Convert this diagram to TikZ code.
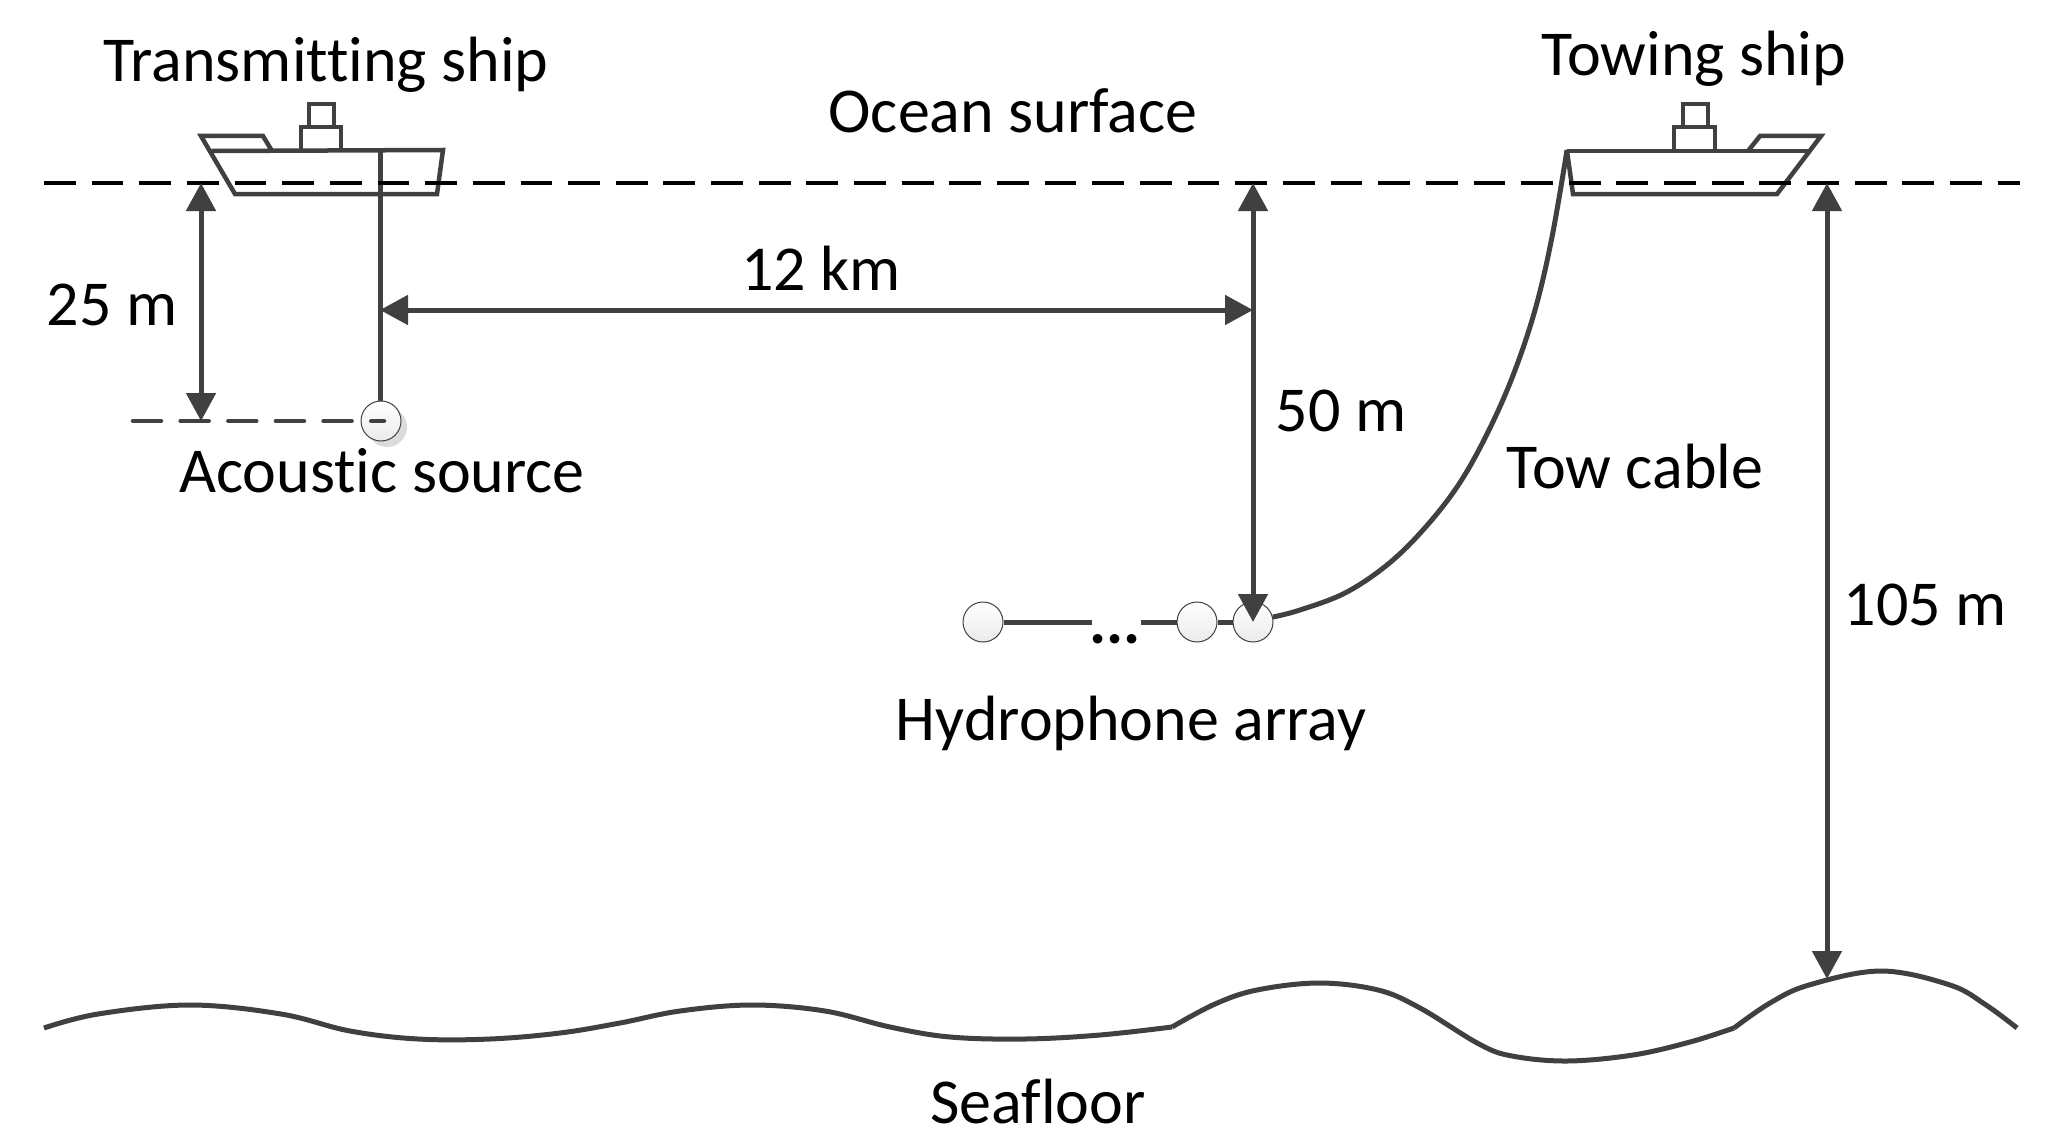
\documentclass[tikz,border=0pt]{standalone}
\usepackage{fontspec}
\setmainfont{Carlito}[Ligatures=NoCommon]
\usetikzlibrary{arrows.meta}
\definecolor{ink}{HTML}{404040}
\tikzset{
  x=1pt,y=-1pt,
  lbl/.style={anchor=base,inner sep=0pt,font=\fontsize{64}{76}\selectfont,text=black},
  ln/.style={draw=ink,line width=5pt},
  shp/.style={draw=ink,line width=4.5pt,line join=miter},
  dim/.style={draw=ink,line width=5pt,{Triangle[length=28pt,width=29pt]}-{Triangle[length=28pt,width=29pt]}},
  ocean/.style={draw=black,line width=4.5pt,dash pattern=on 31.8pt off 15.85pt},
  srfdash/.style={draw=ink,line width=4.5pt,line cap=round,dash pattern=on 28pt off 19.65pt},
  ball/.style={circle,minimum size=40pt,inner sep=0pt,draw=ink,line width=1pt,top color=white,bottom color=black!8},
}
\begin{document}
\begin{tikzpicture}
\useasboundingbox (0,0) rectangle (2050,1145);
% water line coordinates
\coordinate (oceanL) at (44,183);
\coordinate (oceanR) at (2020,183);
\coordinate (a25top) at (201,183);
\coordinate (a25bot) at (201,421);
\coordinate (a50top) at (1253,183);
\coordinate (a105top) at (1827,183);
\coordinate (a105bot) at (1827,979);
\coordinate (srcL) at (133,421);
\coordinate (srcR) at (384,421);
\coordinate (mountA) at (380,150);
\coordinate (km12R) at (1253,310);
\coordinate (km12L) at (380,310);
\coordinate (towTop) at (1567,150);
\coordinate (gapA) at (1092,622);
\coordinate (gapB) at (1141,622);
% balls
\fill[black!14] (387,427) circle (20pt);
\node[ball] (src) at (381,421) {};
\node[ball] (h1) at (983,622) {};
\node[ball] (h2) at (1197,622) {};
\node[ball] (h3) at (1253,622) {};
% array and cables
\draw[ln] (h1) -- (gapA);
\draw[ln] (gapB) -- (h2);
\draw[ln] (h2) -- (h3);
\draw[ln] (mountA) -- (mountA |- src.north);
\draw[ln] plot[smooth,tension=0.6] coordinates {(towTop) (1552,237) (1535,310) (1512,378) (1485,438) (1457,487) (1423,530) (1387,565) (1345,593) (1300,610) (h3.14)};
% transmitting ship
\draw[shp] (212,151) -- (443,150) -- (437,194) -- (235,194) -- (201,136) -- (263,136) -- (272,151);
\draw[shp] (301,151) -- (301,127) -- (341,127) -- (341,150);
\draw[shp] (309,127) -- (309,104) -- (334,104) -- (334,127);
% towing ship
\draw[shp] (1567,151) -- (1809,151);
\draw[shp] (1567,151) -- (1573,194) -- (1777,194) -- (1821,136) -- (1760,136) -- (1748,151);
\draw[shp] (1674,151) -- (1674,127) -- (1715,127) -- (1715,150);
\draw[shp] (1683,127) -- (1683,104) -- (1708,104) -- (1708,127);
% dashed lines
\draw[ocean] (oceanL) -- (oceanR);
\draw[srfdash] (srcL) -- (srcR);
% dimensions
\draw[dim] (a25top) -- (a25bot);
\draw[dim] (km12L) -- (km12R);
\draw[dim] (a50top) -- (h3.center);
\draw[dim] (a105top) -- (a105bot);
% seafloor
\draw[ln] plot[smooth,tension=0.6] coordinates {(44,1028) (98,1014) (190,1005) (281,1014) (350,1031) (418,1039) (490,1039) (560,1033) (620,1023) (680,1011) (752,1005) (825,1011) (890,1027) (950,1037) (1025,1039) (1100,1035) (1172,1027)};
\draw[ln] plot[smooth,tension=0.6] coordinates {(1172,1027) (1215,1004) (1257,990) (1319,983) (1378,990) (1420,1008) (1479,1044) (1512,1056) (1567,1061) (1633,1055) (1690,1042) (1734,1028)};
\draw[ln] plot[smooth,tension=0.6] coordinates {(1734,1028) (1770,1003) (1809,985) (1881,971) (1950,985) (1986,1005) (2017,1028)};
% labels
\node[lbl] (t1) at (326,82) {Transmitting ship};
\node[lbl] (t2) at (1694,76) {Towing ship};
\node[lbl] (t3) at (1013,132) {Ocean surface};
\node[lbl] (t4) at (112,325) {25 m};
\node[lbl] (t5) at (821,290) {12 km};
\node[lbl] (t6) at (1341,431) {50 m};
\node[lbl] (t7) at (382,492) {Acoustic source};
\node[lbl] (t8) at (1635,488) {Tow cable};
\node[lbl] (t9) at (1925,625) {105 m};
\node[lbl] (t10) at (1131,740) {Hydrophone array};
\node[lbl] (t11) at (1038,1123) {Seafloor};
\node[lbl,font=\fontsize{64}{76}\bfseries\selectfont] (t12) at (1115,643) {...};
\end{tikzpicture}
\end{document}
